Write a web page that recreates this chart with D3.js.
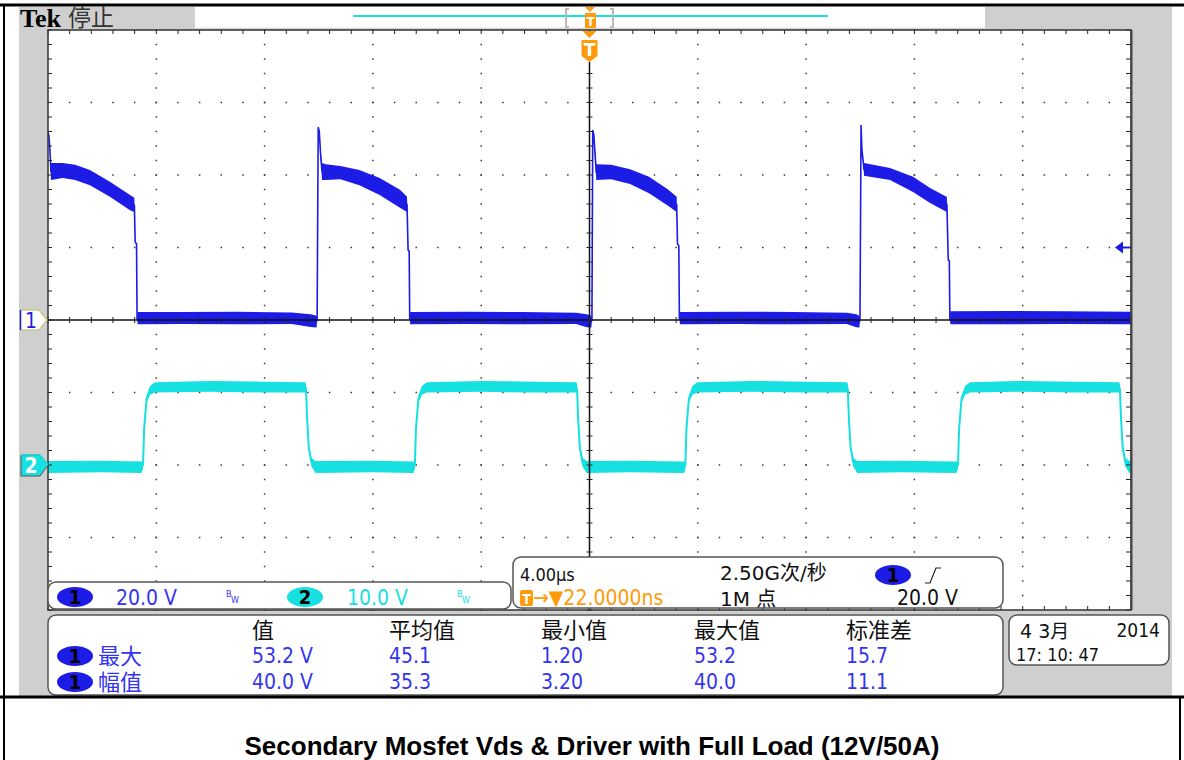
<!DOCTYPE html>
<html>
<head>
<meta charset="utf-8">
<script src="https://cdn.jsdelivr.net/npm/d3@7"></script>
<style>
  body { margin: 0; background: #fff; }
  svg text { font-family: "Liberation Sans Narrow", "DejaVu Sans Condensed", sans-serif; }
  .cjk { font-family: "DejaVu Sans", "Noto Sans CJK SC", sans-serif !important; }
</style>
</head>
<body>
<div id="scope"></div>
<script>
// screen: 10 divs x 4.00 us, CH1 20 V/div (ground at centre), CH2 10 V/div (ground 2 divs below)
const timeDomain = [0, 40];
const ch1Domain = [-80, 80];
const ch2Domain = [-20, 60];

// CH1 Vds envelope: [time us, low V, high V]
const ch1Points = [
  [0.00, 51.0, 52.4], [0.03, 50.5, 51.5], [0.07, 46.3, 47.4], [0.11, 38.6, 43.3],
  [0.55, 39.2, 43.3], [1.00, 38.6, 42.8], [1.55, 37.2, 41.4], [2.30, 33.9, 38.1],
  [3.03, 30.3, 34.5], [3.19, 29.8, 33.7], [3.22, 21.5, 21.5], [3.27, 21.0, 21.0],
  [3.29, 0.4, 0.4], [3.31, -1.2, 2.2], [5.0, -1.1, 2.2], [7.0, -1.2, 2.3],
  [9.0, -1.1, 2.1], [9.7, -1.9, 1.6], [9.92, -2.1, 1.2],
  [9.94, 0.3, 0.3], [9.98, 53.2, 53.2], [10.02, 51.5, 52.5], [10.06, 46.3, 47.0],
  [10.12, 38.6, 43.3], [10.25, 38.6, 43.0], [10.8, 38.8, 42.5], [11.5, 37.2, 41.4],
  [12.25, 34.5, 39.2], [13.0, 31.0, 35.9], [13.26, 29.8, 34.0], [13.30, 19.3, 19.3],
  [13.34, 19.0, 19.0], [13.36, 0.4, 0.4], [13.38, -1.2, 2.2], [15.5, -1.1, 2.3],
  [17.5, -1.2, 2.2], [19.5, -1.1, 2.0], [19.9, -2.0, 1.6], [20.07, -2.1, 1.2],
  [20.09, 0.3, 0.3], [20.12, 52.4, 52.4], [20.16, 50.5, 51.5], [20.20, 46.0, 47.0],
  [20.25, 38.6, 43.0], [20.8, 38.8, 42.8], [21.5, 37.5, 41.6], [22.2, 35.0, 39.5],
  [22.9, 31.5, 36.0], [23.22, 29.8, 34.0], [23.25, 21.0, 21.0], [23.30, 20.5, 20.5],
  [23.32, 0.4, 0.4], [23.34, -1.2, 2.2], [25.5, -1.1, 2.3], [27.5, -1.2, 2.2],
  [29.5, -1.1, 2.0], [29.85, -2.0, 1.6], [29.97, -2.1, 1.2],
  [29.99, 0.3, 0.3], [30.03, 53.8, 53.8], [30.06, 46.5, 47.8], [30.10, 44.0, 44.5],
  [30.14, 39.8, 43.3], [31.10, 38.6, 41.9], [31.95, 35.3, 39.5], [32.58, 32.3, 36.4],
  [33.20, 29.8, 33.9], [33.25, 16.6, 16.6], [33.29, 16.3, 16.3], [33.31, 0.4, 0.4],
  [33.33, -1.2, 2.4], [35.5, -1.2, 2.5], [37.5, -1.1, 2.4], [40.0, -1.2, 2.3]
];

// CH2 gate driver envelope: [time us, low V, high V]
const ch2Points = [
  [0.00, -1.1, 0.55], [2.0, -1.0, 0.6], [3.45, -1.1, 0.5],
  [3.51, -0.5, 0.5], [3.55, 4.5, 5.5], [3.64, 8.6, 9.6], [3.77, 9.7, 10.9], [3.95, 10.0, 11.4],
  [6.0, 10.1, 11.6], [8.0, 10.0, 11.5], [9.50, 10.0, 11.4],
  [9.53, 9.9, 11.2], [9.57, 6.0, 7.0], [9.63, 2.0, 3.0], [9.73, -0.2, 1.0], [9.88, -1.1, 0.55],
  [12.0, -1.0, 0.6], [13.5, -1.1, 0.5],
  [13.55, -0.5, 0.5], [13.59, 4.5, 5.5], [13.68, 8.6, 9.6], [13.81, 9.7, 10.9], [13.99, 10.0, 11.4],
  [16.0, 10.1, 11.6], [18.0, 10.0, 11.5], [19.51, 10.0, 11.4],
  [19.54, 9.9, 11.2], [19.58, 6.0, 7.0], [19.64, 2.0, 3.0], [19.74, -0.2, 1.0], [19.89, -1.1, 0.55],
  [21.5, -1.0, 0.6], [23.5, -1.1, 0.5],
  [23.54, -0.5, 0.5], [23.58, 4.5, 5.5], [23.67, 8.6, 9.6], [23.80, 9.7, 10.9], [23.98, 10.0, 11.4],
  [26.0, 10.1, 11.6], [28.0, 10.0, 11.5], [29.51, 10.0, 11.4],
  [29.54, 9.9, 11.2], [29.58, 6.0, 7.0], [29.64, 2.0, 3.0], [29.74, -0.2, 1.0], [29.89, -1.1, 0.55],
  [31.5, -1.0, 0.6], [33.55, -1.1, 0.5],
  [33.61, -0.5, 0.5], [33.65, 4.5, 5.5], [33.74, 8.6, 9.6], [33.87, 9.7, 10.9], [34.05, 10.0, 11.4],
  [36.0, 10.1, 11.6], [38.0, 10.0, 11.5], [39.56, 10.0, 11.4],
  [39.59, 9.9, 11.2], [39.63, 6.0, 7.0], [39.69, 2.0, 3.0], [39.79, -0.2, 1.0], [39.94, -1.1, 0.55],
  [40.0, -1.1, 0.55]
];

// readouts
const measHeaders = ["值", "平均值", "最小值", "最大值", "标准差"];
const measLabels = ["最大", "幅值"];
const measValues = [
  ["53.2 V", "45.1", "1.20", "53.2", "15.7"],
  ["40.0 V", "35.3", "3.20", "40.0", "11.1"]
];
const chanScales = ["20.0 V", "10.0 V"];
const timebase = "4.00μs";
const sampleRate = "2.50G次/秒";
const triggerDelay = "→▼22.0000ns";
const recordLength = "1M 点";
const triggerLevel = "20.0 V";
const dateText = ["4 3月", "2014", "17: 10: 47"];
const caption = "Secondary Mosfet Vds & Driver with Full Load (12V/50A)";

const blue = "#1c1ce6", cyan = "#16e0e0", orange = "#ff9a0a", tblue = "#3434f0";

const svg = d3.select("#scope").append("svg").attr("width", 1184).attr("height", 760);

const gr = { left: 48, right: 1131, top: 30, bottom: 610 };
const x = d3.scaleLinear().domain(timeDomain).range([gr.left, gr.right]);
const y1 = d3.scaleLinear().domain(ch1Domain).range([gr.bottom, gr.top]);
const y2 = d3.scaleLinear().domain(ch2Domain).range([gr.bottom, gr.top]);

// ---- frame / bezel
svg.append("rect").attr("x", 19).attr("y", 7).attr("width", 1153).attr("height", 690).attr("fill", "#cfcfcf");
svg.append("rect").attr("x", 195).attr("y", 7).attr("width", 790).attr("height", 21).attr("fill", "#fff");
svg.append("line").attr("x1", 195).attr("x2", 985).attr("y1", 28).attr("y2", 28).attr("stroke", "#e4e4e4");
svg.append("rect").attr("x", gr.left).attr("y", gr.top).attr("width", gr.right - gr.left)
  .attr("height", gr.bottom - gr.top).attr("fill", "#fff");

// record view bar
svg.append("line").attr("x1", 353).attr("x2", 828).attr("y1", 16).attr("y2", 16)
  .attr("stroke", cyan).attr("stroke-width", 2);
[566, 613].forEach((bx, i) => {
  const d = i === 0 ? `M${bx + 3},9 H${bx} V27 H${bx + 3}` : `M${bx - 3},9 H${bx} V27 H${bx - 3}`;
  svg.append("path").attr("d", d).attr("fill", "none").attr("stroke", "#bbb").attr("stroke-width", 2);
});
svg.append("path").attr("d", "M585,7 L595,7 L590,12 Z").attr("fill", orange);
svg.append("rect").attr("x", 585).attr("y", 13).attr("width", 11).attr("height", 15).attr("fill", orange);
svg.append("text").attr("x", 590.5).attr("y", 26).attr("text-anchor", "middle")
  .attr("fill", "#fff").attr("font-size", 13).attr("font-weight", "bold").text("T");

// Tek stop
svg.append("text").attr("x", 20).attr("y", 27).style("font-family", "'Liberation Serif', serif")
  .attr("font-size", 26).attr("font-weight", "bold").attr("fill", "#000").text("Tek");
svg.append("text").attr("class", "cjk").attr("x", 68).attr("y", 26).attr("font-size", 23)
  .attr("fill", "#333").text("停止");

// ---- graticule
const minorT = d3.range(timeDomain[0], timeDomain[1] + 0.01, 0.8);
const minorV = d3.range(ch1Domain[0], ch1Domain[1] + 0.01, 4);
const majorT = d3.range(4, 40, 4).filter(t => t !== 20);
const majorV = d3.range(-60, 80, 20).filter(v => v !== 0);
const grid = svg.append("g").attr("fill", "#3a3a3a");
majorV.forEach(v => minorT.forEach(t => {
  grid.append("rect").attr("x", x(t) - 0.75).attr("y", y1(v) - 0.75).attr("width", 1.5).attr("height", 1.5);
}));
majorT.forEach(t => minorV.forEach(v => {
  grid.append("rect").attr("x", x(t) - 0.75).attr("y", y1(v) - 0.75).attr("width", 1.5).attr("height", 1.5);
}));

// ---- traces
function drawTrace(points, yScale, color, width) {
  svg.append("path").datum(points)
    .attr("d", d3.area().x(d => x(d[0])).y0(d => yScale(d[1])).y1(d => yScale(d[2])))
    .attr("fill", color);
  svg.append("path").datum(points)
    .attr("d", d3.line().x(d => x(d[0])).y(d => yScale((d[1] + d[2]) / 2)))
    .attr("fill", "none").attr("stroke", color).attr("stroke-width", width);
}
drawTrace(ch2Points, y2, cyan, 2);
drawTrace(ch1Points, y1, blue, 1.6);

// centre cross and edge ticks
const cx = x(20), cy = y1(0);
svg.append("line").attr("x1", gr.left).attr("x2", gr.right).attr("y1", cy).attr("y2", cy)
  .attr("stroke", "#111").attr("stroke-width", 1.5);
svg.append("line").attr("x1", cx).attr("x2", cx).attr("y1", 62).attr("y2", gr.bottom)
  .attr("stroke", "#111").attr("stroke-width", 1.5);
const ticks = svg.append("g").attr("stroke", "#222").attr("stroke-width", 1);
minorT.forEach(t => {
  ticks.append("line").attr("x1", x(t)).attr("x2", x(t)).attr("y1", cy - 3).attr("y2", cy + 3);
  ticks.append("line").attr("x1", x(t)).attr("x2", x(t)).attr("y1", gr.top).attr("y2", gr.top + 4);
  ticks.append("line").attr("x1", x(t)).attr("x2", x(t)).attr("y1", gr.bottom - 4).attr("y2", gr.bottom);
});
minorV.forEach(v => {
  if (y1(v) > 62) ticks.append("line").attr("x1", cx - 3).attr("x2", cx + 3).attr("y1", y1(v)).attr("y2", y1(v));
  ticks.append("line").attr("x1", gr.left).attr("x2", gr.left + 4).attr("y1", y1(v)).attr("y2", y1(v));
  ticks.append("line").attr("x1", gr.right - 5).attr("x2", gr.right).attr("y1", y1(v)).attr("y2", y1(v));
});
svg.append("rect").attr("x", gr.left).attr("y", gr.top).attr("width", gr.right - gr.left)
  .attr("height", gr.bottom - gr.top).attr("fill", "none").attr("stroke", "#333").attr("stroke-width", 1.5);
svg.append("line").attr("x1", gr.right + 0.5).attr("x2", gr.right + 0.5).attr("y1", gr.top).attr("y2", gr.bottom)
  .attr("stroke", "#444").attr("stroke-width", 2);

// trigger position marker
svg.append("path").attr("d", `M${cx - 7},31 L${cx + 7},31 L${cx},38 Z`).attr("fill", orange);
svg.append("path").attr("d", `M${cx - 8},40 H${cx + 8} V56 L${cx},62 L${cx - 8},56 Z`).attr("fill", orange);
svg.append("text").attr("x", cx).attr("y", 56).attr("text-anchor", "middle").attr("fill", "#fff")
  .attr("font-size", 17).attr("font-weight", "bold").style("font-family", "'DejaVu Sans', sans-serif").text("T");

// trigger level arrow
const ty = y1(20);
svg.append("path").attr("d", `M${gr.right - 16},${ty} L${gr.right - 8},${ty - 6} L${gr.right - 8},${ty + 6} Z`).attr("fill", blue);
svg.append("line").attr("x1", gr.right - 9).attr("x2", gr.right - 1).attr("y1", ty).attr("y2", ty)
  .attr("stroke", blue).attr("stroke-width", 2);

// channel ground markers
const m1 = y1(0), m2 = y2(0);
svg.append("path").attr("d", `M20,${m1 - 10} H39 L47,${m1} L39,${m1 + 10} H20 Z`)
  .attr("fill", "#fff").attr("stroke", "#c9c98a").attr("stroke-width", 1.5);
svg.append("line").attr("x1", 20.5).attr("x2", 20.5).attr("y1", m1 - 10).attr("y2", m1 + 10).attr("stroke", blue).attr("stroke-width", 1.5);
svg.append("text").attr("x", 31).attr("y", m1 + 8).attr("text-anchor", "middle").attr("fill", blue)
  .attr("font-size", 21).text("1");
svg.append("path").attr("d", `M21,${m2 - 10} H40 L48,${m2} L40,${m2 + 11} H21 Z`)
  .attr("fill", cyan).attr("stroke", "#555").attr("stroke-width", 1);
svg.append("path").attr("d", `M21,${m2 - 10} H40 L48,${m2}`).attr("fill", "none").attr("stroke", cyan).attr("stroke-width", 1.5);
svg.append("text").attr("x", 31).attr("y", m2 + 8).attr("text-anchor", "middle").attr("fill", "#fff")
  .attr("font-size", 21).attr("font-weight", "bold").text("2");

// ---- readout boxes
function box(x0, y0, w, h) {
  svg.append("rect").attr("x", x0).attr("y", y0).attr("width", w).attr("height", h)
    .attr("rx", 8).attr("fill", "#fff").attr("stroke", "#555").attr("stroke-width", 1.5);
}
function badge(bx, by, label, fill) {
  svg.append("ellipse").attr("cx", bx).attr("cy", by).attr("rx", 18).attr("ry", 10).attr("fill", fill);
  svg.append("text").attr("x", bx).attr("y", by + 7).attr("text-anchor", "middle").attr("fill", "#000")
    .attr("font-size", 20).attr("font-weight", "bold").text(label);
}
function txt(tx, ty, s, size, color, cls) {
  return svg.append("text").attr("class", cls || null).attr("x", tx).attr("y", ty)
    .attr("font-size", size).attr("fill", color).text(s);
}

// vertical settings
box(48, 582, 463, 27);
badge(75, 597, "1", blue);
txt(116, 605, chanScales[0], 21, tblue);
badge(305, 597, "2", cyan);
txt(347, 605, chanScales[1], 21, cyan);
[[226, tblue], [457, cyan]].forEach(([bx, c]) => {
  txt(bx, 597, "B", 9, c);
  txt(bx + 5, 603, "W", 9, c);
});

// timebase / trigger
box(513, 557, 490, 51);
txt(520, 581, timebase, 18, "#111");
txt(720, 580, sampleRate, 20, "#111", "cjk");
badge(893, 575, "1", blue);
svg.append("path").attr("d", "M925,583 H930 L936,568 H941").attr("fill", "none").attr("stroke", "#222").attr("stroke-width", 1.2);
svg.append("rect").attr("x", 520).attr("y", 590).attr("width", 13).attr("height", 16).attr("rx", 2).attr("fill", orange);
txt(526.5, 604, "T", 14, "#fff").attr("text-anchor", "middle").attr("font-weight", "bold");
txt(533, 605, triggerDelay, 21, orange);
txt(720, 606, recordLength, 20, "#111", "cjk");
txt(958, 605, triggerLevel, 21, "#111").attr("text-anchor", "end");

// measurements
box(48, 615, 955, 80);
const colX = [252, 389, 541, 694, 846];
measHeaders.forEach((h, i) => txt(colX[i], 638, h, 22, "#111", "cjk"));
measLabels.forEach((lab, r) => {
  const ry = [656, 682][r];
  badge(75, ry, "1", blue);
  txt(98, ry + 8, lab, 22, tblue, "cjk");
  measValues[r].forEach((v, i) => txt(colX[i], [663, 689][r], v, 21, tblue));
});

// date
box(1009, 615, 160, 50);
txt(1020, 638, dateText[0], 19, "#111", "cjk");
txt(1160, 637, dateText[1], 19, "#111").attr("text-anchor", "end");
txt(1016, 661, dateText[2], 18, "#111");

// ---- page frame and caption
svg.append("line").attr("x1", 0).attr("x2", 1184).attr("y1", 5).attr("y2", 5).attr("stroke", "#000").attr("stroke-width", 3);
svg.append("line").attr("x1", 0).attr("x2", 1184).attr("y1", 697).attr("y2", 697).attr("stroke", "#000").attr("stroke-width", 3);
svg.append("line").attr("x1", 4).attr("x2", 4).attr("y1", 4).attr("y2", 760).attr("stroke", "#000").attr("stroke-width", 2);
svg.append("line").attr("x1", 1180).attr("x2", 1180).attr("y1", 697).attr("y2", 760).attr("stroke", "#000").attr("stroke-width", 2);
svg.append("text").attr("x", 592).attr("y", 755).attr("text-anchor", "middle")
  .style("font-family", "'Liberation Sans', Arial, sans-serif").attr("font-size", 26).attr("font-weight", "bold")
  .attr("fill", "#000").text(caption);
</script>
</body>
</html>
